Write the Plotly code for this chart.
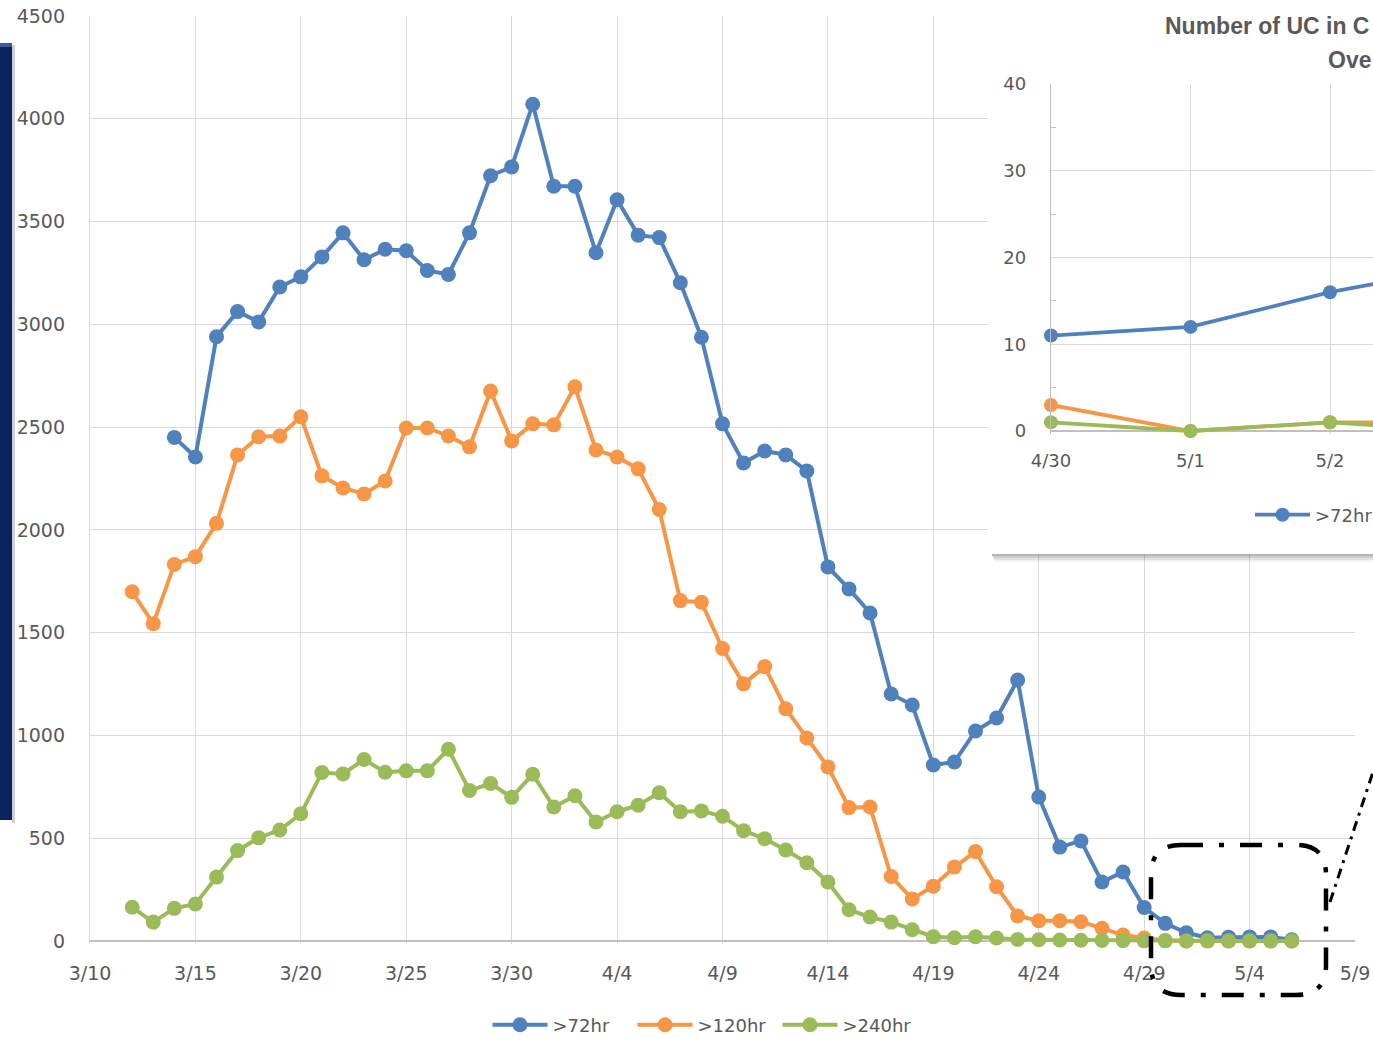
import pandas as pd
import plotly.graph_objects as go

W, H = 1373, 1039

# ---- main chart data (daily counts) ----
dates_72 = pd.date_range("2022-03-14", "2022-05-06").tolist()
dates_long = pd.date_range("2022-03-12", "2022-05-06").tolist()

over_72 = [
    2450, 2355, 2940, 3062, 3012, 3182, 3231, 3328, 3445, 3314, 3365, 3358,
    3262, 3243, 3445, 3723, 3766, 4071,
    3672, 3672, 3348, 3606, 3434, 3422, 3202, 2937, 2516, 2326, 2384, 2365,
    2287, 1820, 1713, 1596, 1202, 1148, 856, 871, 1022, 1085, 1270, 701,
    457, 487, 287, 336, 163, 86,
    40, 16, 19, 20, 20, 6,
]
over_120 = [
    1699, 1544, 1832, 1870, 2032, 2365, 2453, 2457, 2550, 2263, 2204, 2175,
    2238, 2496, 2496, 2457, 2404, 2676, 2433, 2516,
    2511, 2696, 2389, 2355, 2297, 2099, 1656, 1648, 1423, 1251, 1335, 1130,
    988, 847, 649, 652, 314, 205, 267, 360, 435, 264, 122, 99, 99, 94, 62,
    29, 15, 3,
    0, 1, 1, 1, 1, 0,
]
over_240 = [
    164, 92, 159, 180, 311, 440, 502, 540, 619, 820, 813, 883, 821, 828,
    828, 933, 732, 766, 699, 811,
    652, 707, 579, 629, 661, 721, 629, 633, 607, 537, 498, 443, 381, 287,
    152, 117, 92, 55, 21, 16, 21, 15, 8, 6, 5, 4, 3, 2, 1, 1,
    0, 1, 0, 0, 0, 0,
]

# ---- inset data ----
inset_dates = pd.date_range("2022-04-30", "2022-05-03").tolist()
inset_72 = [11, 12, 16, 19]
inset_120 = [3, 0, 1, 1]
inset_240 = [1, 0, 1, 0]

series_names = [">72hr", ">120hr", ">240hr"]
colors = ["#4f81bd", "#f79646", "#9bbb59"]
inset_title = ["Number of UC in C", "Ove"]

GRID = "#d9d9d9"
TXT = "#595959"
FONT = "DejaVu Sans"


def px(x):
    return x / W


def py(y):
    return 1 - y / H


fig = go.Figure()

for name, xs, ys, c in zip(
    series_names,
    [dates_72, dates_long, dates_long],
    [over_72, over_120, over_240],
    colors,
):
    fig.add_trace(
        go.Scatter(
            x=xs, y=ys, name=name, mode="lines+markers",
            line=dict(color=c, width=4),
            marker=dict(color=c, size=15),
            cliponaxis=False, legend="legend",
        )
    )

# empty trace that creates the white inset panel
fig.add_trace(
    go.Scatter(x=[None], y=[None], xaxis="x2", yaxis="y2",
               showlegend=False, hoverinfo="skip")
)

for name, ys, c in zip(series_names, [inset_72, inset_120, inset_240], colors):
    fig.add_trace(
        go.Scatter(
            x=inset_dates, y=ys, name=name, mode="lines+markers",
            xaxis="x3", yaxis="y3",
            line=dict(color=c, width=3.8),
            marker=dict(color=c, size=14),
            cliponaxis=False, legend="legend2",
            showlegend=(name == ">72hr"),
        )
    )

day_ms = 86400000
inset_end = pd.Timestamp("2022-04-30") + pd.Timedelta(days=(W - 1051) / 139.5)

shapes = []
# dark bar on the left edge
shapes.append(dict(type="rect", xref="paper", yref="paper",
                   x0=px(12), x1=px(15), y0=py(823), y1=py(45),
                   fillcolor="rgba(0,0,0,0.18)", line_width=0, layer="above"))
shapes.append(dict(type="rect", xref="paper", yref="paper",
                   x0=px(0), x1=px(12), y0=py(820), y1=py(43),
                   fillcolor="#0b2260", line_width=0, layer="above"))
shapes.append(dict(type="rect", xref="paper", yref="paper",
                   x0=px(0), x1=px(12), y0=py(47), y1=py(43),
                   fillcolor="#3b5a9a", line_width=0, layer="above"))
# inset shadow
for i, a in enumerate([0.45, 0.3, 0.18, 0.08]):
    shapes.append(dict(type="rect", xref="paper", yref="paper",
                       x0=px(992 + i), x1=px(W), y0=py(556 + 2 * i), y1=py(554 + 2 * i),
                       fillcolor=f"rgba(90,90,90,{a})", line_width=0, layer="above"))

# rounded dash-dot box around the tail
x0, x1, y0, y1, r = 1151, 1326, 845, 995, 30
path = (
    f"M{px(x0 + r)},{py(y0)} L{px(x1 - r)},{py(y0)} "
    f"Q{px(x1)},{py(y0)} {px(x1)},{py(y0 + r)} L{px(x1)},{py(y1 - r)} "
    f"Q{px(x1)},{py(y1)} {px(x1 - r)},{py(y1)} L{px(x0 + r)},{py(y1)} "
    f"Q{px(x0)},{py(y1)} {px(x0)},{py(y1 - r)} L{px(x0)},{py(y0 + r)} "
    f"Q{px(x0)},{py(y0)} {px(x0 + r)},{py(y0)} Z"
)
shapes.append(dict(type="path", xref="paper", yref="paper", path=path,
                   line=dict(color="black", width=4.5, dash="22px,16px,5px,16px"),
                   layer="above"))
shapes.append(dict(type="line", xref="paper", yref="paper",
                   x0=px(1330), y0=py(902), x1=px(1373), y1=py(772),
                   line=dict(color="black", width=3, dash="10px,6px,3px,6px"),
                   layer="above"))

annotations = [
    dict(text=inset_title[0], x=px(1163), y=py(26), xref="paper", yref="paper",
         xanchor="left", yanchor="middle", showarrow=False,
         font=dict(family="Liberation Sans", size=23, color=TXT, weight="bold")),
    dict(text=inset_title[1], x=px(1326), y=py(60), xref="paper", yref="paper",
         xanchor="left", yanchor="middle", showarrow=False,
         font=dict(family="Liberation Sans", size=23, color=TXT, weight="bold")),
]

fig.update_layout(
    width=W, height=H,
    margin=dict(l=0, r=0, t=0, b=0, autoexpand=False),
    paper_bgcolor="white", plot_bgcolor="white",
    font=dict(family=FONT, size=18, color=TXT),
    xaxis=dict(
        domain=[px(90), px(1355)], anchor="y", automargin=False,
        type="date", range=["2022-03-10", "2022-05-09"],
        tick0="2022-03-10", dtick=5 * day_ms, tickformat="%-m/%-d",
        showgrid=True, gridcolor=GRID, gridwidth=1.3,
        showline=False, ticks="", ticklabelstandoff=16,
        tickfont=dict(size=19, color=TXT),
    ),
    yaxis=dict(
        domain=[py(943.5), py(16)], anchor="x", automargin=False,
        range=[-12, 4500], dtick=500, tick0=0,
        showgrid=True, gridcolor=GRID, gridwidth=1.3,
        showline=True, linecolor=GRID, linewidth=1.3,
        zeroline=True, zerolinecolor="#bfbfbf", zerolinewidth=1.6,
        ticks="", ticklabelstandoff=20,
        tickfont=dict(size=19, color=TXT),
    ),
    xaxis2=dict(domain=[px(988), 1], anchor="y2", visible=False, automargin=False),
    yaxis2=dict(domain=[py(554), 1], anchor="x2", visible=False, automargin=False),
    xaxis3=dict(
        domain=[px(1051), 1], anchor="y3", automargin=False,
        type="date", range=["2022-04-30", inset_end],
        tick0="2022-04-30", dtick=day_ms, tickformat="%-m/%-d",
        showgrid=True, gridcolor=GRID, gridwidth=1.3,
        showline=False, ticks="", ticklabelstandoff=14,
        tickfont=dict(size=18, color=TXT),
    ),
    yaxis3=dict(
        domain=[py(433.6), py(84)], anchor="x3", automargin=False,
        range=[-0.3, 40], dtick=10, tick0=0,
        showgrid=True, gridcolor=GRID, gridwidth=1.3,
        showline=True, linecolor="#bfbfbf", linewidth=1.3,
        zeroline=True, zerolinecolor="#bfbfbf", zerolinewidth=1.6,
        ticks="", ticklabelstandoff=20,
        minor=dict(ticks="inside", dtick=5, ticklen=5, tickcolor="#bfbfbf"),
        tickfont=dict(size=18, color=TXT),
    ),
    legend=dict(
        orientation="h", x=px(705), xanchor="center", y=py(1025), yanchor="middle",
        font=dict(size=18, color=TXT), bgcolor="rgba(0,0,0,0)", itemwidth=55,
        entrywidth=75, entrywidthmode="pixels",
    ),
    legend2=dict(
        orientation="h", x=px(1250), xanchor="left", y=py(515), yanchor="middle",
        font=dict(size=18, color=TXT), bgcolor="rgba(0,0,0,0)", itemwidth=55,
    ),
    shapes=shapes,
    annotations=annotations,
    showlegend=True,
)

fig.write_html(
    "out.html",
    config={"displayModeBar": False},
    post_script="document.body.style.margin='0';document.body.style.overflow='hidden';",
)
